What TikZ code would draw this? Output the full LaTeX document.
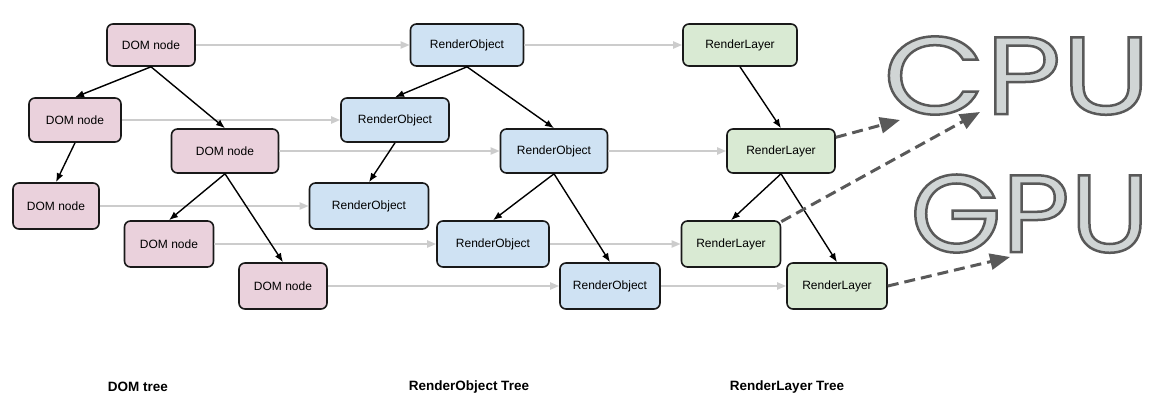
\documentclass[tikz,border=0pt]{standalone}
\usepackage{fontspec}
\setmainfont{Liberation Sans}
\newfontfamily\cpufont[FakeStretch=1.2]{Poppins}
\newfontfamily\gpufont[FakeStretch=1.07]{Poppins}
\usetikzlibrary{arrows.meta}

\definecolor{dompink}{HTML}{EAD1DC}
\definecolor{roblue}{HTML}{CFE2F3}
\definecolor{rlgreen}{HTML}{D9EAD3}
\definecolor{linkgray}{HTML}{CCCCCC}
\definecolor{dashgray}{HTML}{595959}
\definecolor{chipfill}{HTML}{D0D5D5}

% outlined letters (fill and stroke)
\newcommand\outlined[1]{\special{pdf:literal direct 2 Tr 2.5 w 0.35 0.35 0.35 RG}#1\special{pdf:literal direct 0 Tr}}

\begin{document}
\begin{tikzpicture}[x=1pt,y=-1pt,
  box/.style={draw=black!90,line width=1.6pt,rounded corners=6pt,minimum height=44pt,inner sep=0pt,font=\fontsize{12}{14}\selectfont},
  dom/.style={box,fill=dompink},
  ro/.style={box,fill=roblue},
  rl/.style={box,fill=rlgreen},
  child/.style={-{Latex[length=9pt,width=7pt]},line width=1.4pt},
  link/.style={-{Triangle[length=9pt,width=7pt]},linkgray,line width=2pt},
  tochip/.style={-{Triangle[length=20pt,width=16pt]},dashgray,line width=3pt,dash pattern=on 11pt off 6pt},
  caption/.style={font=\bfseries\fontsize{13.5}{16}\selectfont},
  chip/.style={inner sep=0pt,anchor=south west,text=chipfill}]
\useasboundingbox (0,0) rectangle (1158,411);

% DOM tree
\node[dom,minimum width=88pt,minimum height=42pt] (d1) at (151,45) {DOM node};
\node[dom,minimum width=92pt] (d2) at (75,120) {DOM node};
\node[dom,minimum width=107pt] (d3) at (225,151) {DOM node};
\node[dom,minimum width=86pt,minimum height=46pt] (d4) at (56,206) {DOM node};
\node[dom,minimum width=89pt,minimum height=46pt] (d5) at (169,244) {DOM node};
\node[dom,minimum width=88pt,minimum height=46pt] (d6) at (283,286) {DOM node};

% RenderObject tree
\node[ro,minimum width=113pt,minimum height=42pt] (r1) at (467,45) {RenderObject};
\node[ro,minimum width=108pt] (r2) at (395,120) {RenderObject};
\node[ro,minimum width=107pt] (r3) at (554,151) {RenderObject};
\node[ro,minimum width=119pt,minimum height=46pt] (r4) at (369,206) {RenderObject};
\node[ro,minimum width=112pt,minimum height=46pt] (r5) at (493,244) {RenderObject};
\node[ro,minimum width=100pt,minimum height=46pt] (r6) at (610,286) {RenderObject};

% RenderLayer tree
\node[rl,minimum width=114pt,minimum height=42pt] (l1) at (740,45) {RenderLayer};
\node[rl,minimum width=108pt] (l2) at (781,151) {RenderLayer};
\node[rl,minimum width=99pt,minimum height=46pt] (l3) at (731,244) {RenderLayer};
\node[rl,minimum width=100pt,minimum height=46pt] (l4) at (837,286) {RenderLayer};

% mapping between trees
\draw[link] (d1) -- (r1);
\draw[link] (d2) -- (r2);
\draw[link] (d3) -- (r3);
\draw[link] (d4) -- (r4);
\draw[link] (d5) -- (r5);
\draw[link] (d6) -- (r6);
\draw[link] (r1) -- (l1);
\draw[link] (r3) -- (l2);
\draw[link] (r5) -- (l3);
\draw[link] (r6) -- (l4);

% parent -> child
\draw[child] (d1.south) -- (d2.north);
\draw[child] (d1.south) -- (d3.north);
\draw[child] (d2.south) -- (d4.north);
\draw[child] (d3.south) -- (d5.north);
\draw[child] (d3.south) -- (d6.north);
\draw[child] (r1.south) -- (r2.north);
\draw[child] (r1.south) -- (r3.north);
\draw[child] (r2.south) -- (r4.north);
\draw[child] (r3.south) -- (r5.north);
\draw[child] (r3.south) -- (r6.north);
\draw[child] (l1.south) -- (l2.north);
\draw[child] (l2.south) -- (l3.north);
\draw[child] (l2.south) -- (l4.north);

% captions
\node[caption] (domcap) at (138,387) {DOM tree};
\node[caption] (rocap) at (469,387) {RenderObject Tree};
\node[caption] (rlcap) at (787,387) {RenderLayer Tree};

% layers to processors
\coordinate (cpuin1) at (900,120);
\coordinate (cpuin2) at (980,112);
\coordinate (gpuin) at (1010,257);
\draw[tochip] (l2.14) -- (cpuin1);
\draw[tochip] (l3.24) -- (cpuin2);
\draw[tochip] (l4.east) -- (gpuin);

\node[chip,font=\cpufont\fontsize{110}{110}\selectfont] (cpu) at (883,115) {\outlined{CPU}};
\node[chip,font=\gpufont\fontsize{110}{110}\selectfont] (gpu) at (910,253) {\outlined{GPU}};
\end{tikzpicture}
\end{document}
